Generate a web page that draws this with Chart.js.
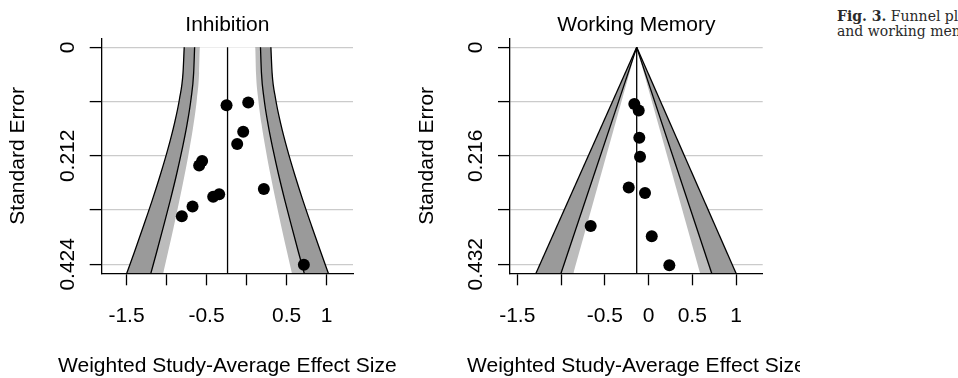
<!DOCTYPE html>
<html>
<head>
<meta charset="utf-8">
<title>Funnel plots</title>
<script src="https://cdn.jsdelivr.net/npm/chart.js@4.4.1/dist/chart.umd.min.js"></script>
<style>
  html, body { margin: 0; padding: 0; background: #fff; }
  body { width: 958px; height: 378px; overflow: hidden; position: relative; }
  canvas { position: absolute; top: 0; }
  #cInh { left: 0; }
  #cWm { left: 400px; }
  .cap { position: absolute; left: 837px; font-family: "DejaVu Serif", serif; font-size: 14px;
         line-height: 15px; color: #2a2a2a; white-space: nowrap; }
</style>
</head>
<body>
<canvas id="cInh" width="400" height="378"></canvas>
<canvas id="cWm" width="400" height="378"></canvas>
<div class="cap" style="top:9px"><b>Fig. 3.</b> Funnel plots for inhibition</div>
<div class="cap" style="top:24px">and working memory.</div>
<script>
// ---- datos: Inhibition ----
const inhEffect = [-0.25, 0.021, -0.042, -0.117, -0.555, -0.592, 0.216, -0.342, -0.417, -0.675, -0.809, 0.716];
const inhSE     = [0.113, 0.108, 0.165, 0.189, 0.222, 0.231, 0.277, 0.287, 0.292, 0.311, 0.330, 0.425];
const inhCenter = -0.2375;
// contornos del embudo (leidos a varios niveles de error estandar)
const inhSeLevels   = [0, 0.05, 0.1, 0.15, 0.2, 0.25, 0.3, 0.35, 0.4, 0.4416];
const inhOuterLeft  = [-0.779, -0.794, -0.837, -0.903, -0.985, -1.079, -1.181, -1.290, -1.401, -1.497];
const inhOuterRight = [0.304, 0.319, 0.362, 0.428, 0.510, 0.604, 0.706, 0.815, 0.927, 1.022];
const inhMidLeft    = [-0.649, -0.661, -0.693, -0.743, -0.806, -0.877, -0.955, -1.038, -1.123, -1.196];
const inhMidRight   = [0.174, 0.186, 0.218, 0.268, 0.331, 0.402, 0.480, 0.563, 0.648, 0.721];
const inhInnerLeft  = [-0.583, -0.593, -0.620, -0.662, -0.715, -0.775, -0.840, -0.909, -0.981, -1.042];
const inhInnerRight = [0.108, 0.118, 0.145, 0.187, 0.240, 0.300, 0.365, 0.434, 0.506, 0.567];
const inhYTicks  = [0, 0.106, 0.212, 0.318, 0.424];
const inhYLabels = ['0', '', '0.212', '', '0.424'];
const inhXLabels = ['-1.5', '', '-0.5', '', '0.5', '1'];

// ---- datos: Working Memory ----
const wmEffect = [-0.162, -0.112, -0.105, -0.097, -0.226, -0.04, -0.661, 0.037, 0.238];
const wmSE     = [0.113, 0.126, 0.180, 0.218, 0.279, 0.290, 0.356, 0.376, 0.434];
const wmCenter = -0.135;
const wmSeLevels   = [0, 0.45];
const wmOuterLeft  = [-0.135, -1.286];
const wmOuterRight = [-0.135, 1.0];
const wmMidLeft    = [-0.135, -1.0];
const wmMidRight   = [-0.135, 0.722];
const wmInnerLeft  = [-0.135, -0.859];
const wmInnerRight = [-0.135, 0.589];
const wmYTicks  = [0, 0.108, 0.216, 0.324, 0.432];
const wmYLabels = ['0', '', '0.216', '', '0.432'];
const wmXLabels = ['-1.5', '', '-0.5', '0', '0.5', '1'];

const xTicks = [-1.5, -1, -0.5, 0, 0.5, 1];
const xTitle = 'Weighted Study-Average Effect Size';
const yTitle = 'Standard Error';

const FONT = '21px "Liberation Sans", Arial, Helvetica, sans-serif';
const DARK = '#9a9a9a';
const LIGHT = '#bcbcbc';

// curva de izquierda a derecha (x creciente)
function curva(levels, xs) {
    const pts = levels.map((se, i) => ({x: xs[i], y: se}));
    return pts[0].x <= pts[pts.length - 1].x ? pts : pts.reverse();
}
// forma en U: lado izquierdo de abajo hacia arriba, luego lado derecho hacia abajo
function formaU(levels, left, right) {
    return curva(levels, left).concat(curva(levels, right));
}

// etiquetas al estilo R (texto rotado en el eje y)
const rLabels = {
    id: 'rLabels',
    afterDraw(chart, args, o) {
        const {ctx, chartArea: a, scales: {x, y}} = chart;
        ctx.save();
        ctx.fillStyle = '#000';
        ctx.font = FONT;
        ctx.textAlign = 'center';
        ctx.textBaseline = 'alphabetic';
        const midX = (a.left + a.right) / 2;
        const midY = (a.top + a.bottom) / 2;
        ctx.fillText(o.title, midX, 30.7);
        x.ticks.forEach(t => {
            const lab = o.xLabels[xTicks.indexOf(t.value)];
            if (lab) ctx.fillText(lab, x.getPixelForValue(t.value), a.bottom + 49);
        });
        ctx.fillText(xTitle, midX, a.bottom + 99);
        y.ticks.forEach(t => {
            const lab = o.yLabels[o.yTicks.indexOf(t.value)];
            if (!lab) return;
            ctx.save();
            ctx.translate(a.left - 28.2, y.getPixelForValue(t.value));
            ctx.rotate(-Math.PI / 2);
            ctx.fillText(lab, 0, 0);
            ctx.restore();
        });
        ctx.save();
        ctx.translate(a.left - 77.5, midY);
        ctx.rotate(-Math.PI / 2);
        ctx.fillText(yTitle, 0, 0);
        ctx.restore();
        ctx.restore();
    }
};

function crearEmbudo(canvasId, c) {
    const smooth = c.levels.length > 2 ? 'monotone' : 'default';
    const yMax = c.levels[c.levels.length - 1];
    const relleno = (data, color, order) => ({
        data, order, fill: 'start', backgroundColor: color, borderWidth: 0,
        pointRadius: 0, cubicInterpolationMode: smooth, tension: 0
    });
    const linea = (data) => ({
        data, order: 2, fill: false, borderColor: '#000', borderWidth: 1.3,
        pointRadius: 0, cubicInterpolationMode: smooth, tension: 0
    });
    const datasets = [
        relleno(formaU(c.levels, c.outerL, c.outerR), DARK, 5),
        relleno(formaU(c.levels, c.midL, c.midR), LIGHT, 4),
        relleno(formaU(c.levels, c.innerL, c.innerR), '#ffffff', 3),
        linea(curva(c.levels, c.outerL)),
        linea(curva(c.levels, c.outerR)),
        linea(curva(c.levels, c.midL)),
        linea(curva(c.levels, c.midR)),
        linea([{x: c.center, y: 0}, {x: c.center, y: yMax}]),
        {
            data: c.effect.map((v, i) => ({x: v, y: c.se[i]})),
            order: 0, showLine: false, pointRadius: 6, pointBorderWidth: 0,
            pointBackgroundColor: '#000', pointBorderColor: '#000'
        }
    ];
    return new Chart(document.getElementById(canvasId), {
        type: 'line',
        data: {datasets},
        options: {
            responsive: false,
            animation: false,
            events: [],
            layout: {padding: {left: 0, right: c.padRight, top: 38.3, bottom: 0}},
            plugins: {
                legend: {display: false},
                tooltip: {enabled: false},
                rLabels: {title: c.title, xLabels: c.xLabels, yLabels: c.yLabels, yTicks: c.yTicks}
            },
            scales: {
                x: {
                    type: 'linear', min: c.xMin, max: c.xMax, z: 1,
                    afterBuildTicks: s => { s.ticks = xTicks.map(v => ({value: v})); },
                    afterFit: s => { s.height = 104.7; },
                    grid: {drawOnChartArea: false, tickLength: 12, tickColor: '#000', tickWidth: 1.3},
                    border: {display: true, color: '#000', width: 1.3},
                    ticks: {display: false}
                },
                y: {
                    type: 'linear', reverse: true, min: c.yMin, max: yMax,
                    afterBuildTicks: s => { s.ticks = c.yTicks.map(v => ({value: v})); },
                    afterFit: s => { s.width = c.axisLeft; },
                    grid: {color: '#cbcbcb', lineWidth: 1.2, tickLength: 12, tickColor: '#000', tickWidth: 1.3},
                    border: {display: true, color: '#000', width: 1.3},
                    ticks: {display: false}
                }
            }
        },
        plugins: [rLabels]
    });
}

crearEmbudo('cInh', {
    title: 'Inhibition', effect: inhEffect, se: inhSE, center: inhCenter,
    levels: inhSeLevels, outerL: inhOuterLeft, outerR: inhOuterRight,
    midL: inhMidLeft, midR: inhMidRight, innerL: inhInnerLeft, innerR: inhInnerRight,
    yTicks: inhYTicks, yLabels: inhYLabels, xLabels: inhXLabels,
    xMin: -1.81, xMax: 1.33, yMin: -0.0176, axisLeft: 101.7, padRight: 47
});

crearEmbudo('cWm', {
    title: 'Working Memory', effect: wmEffect, se: wmSE, center: wmCenter,
    levels: wmSeLevels, outerL: wmOuterLeft, outerR: wmOuterRight,
    midL: wmMidLeft, midR: wmMidRight, innerL: wmInnerLeft, innerR: wmInnerRight,
    yTicks: wmYTicks, yLabels: wmYLabels, xLabels: wmXLabels,
    xMin: -1.583, xMax: 1.305, yMin: -0.018, axisLeft: 110, padRight: 37.3
});
</script>
</body>
</html>
